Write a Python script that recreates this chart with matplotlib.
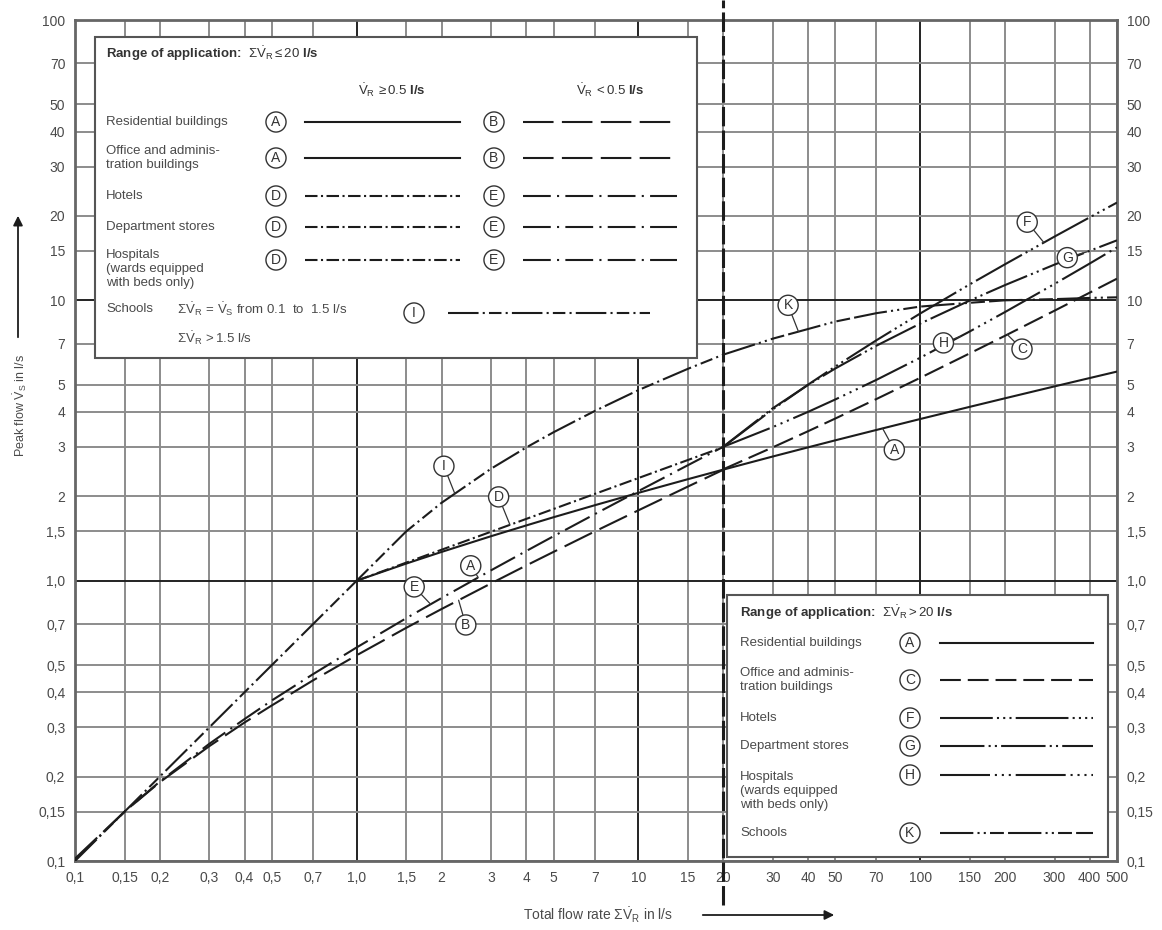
import numpy as np
import matplotlib.pyplot as plt
from matplotlib.patches import Rectangle
from matplotlib.ticker import NullLocator

plt.rcParams['font.family'] = ['Liberation Sans', 'DejaVu Sans']
plt.rcParams['mathtext.fontset'] = 'custom'
plt.rcParams['mathtext.rm'] = 'Liberation Sans'
plt.rcParams['mathtext.it'] = 'Liberation Sans:italic'
plt.rcParams['mathtext.bf'] = 'Liberation Sans:bold'
plt.rcParams['lines.scale_dashes'] = False

NARROW = ['Liberation Sans Narrow', 'Liberation Sans', 'DejaVu Sans']

# Axis ticks
X_TICKS = [0.1, 0.15, 0.2, 0.3, 0.4, 0.5, 0.7, 1, 1.5, 2, 3, 4, 5, 7, 10, 15, 20,
           30, 40, 50, 70, 100, 150, 200, 300, 400, 500]
X_LABELS = ['0,1', '0,15', '0,2', '0,3', '0,4', '0,5', '0,7', '1,0', '1,5', '2', '3', '4', '5',
            '7', '10', '15', '20', '30', '40', '50', '70', '100', '150', '200', '300', '400', '500']
Y_TICKS = [0.1, 0.15, 0.2, 0.3, 0.4, 0.5, 0.7, 1, 1.5, 2, 3, 4, 5, 7, 10, 15, 20, 30, 40, 50, 70, 100]
Y_LABELS = ['0,1', '0,15', '0,2', '0,3', '0,4', '0,5', '0,7', '1,0', '1,5', '2', '3', '4', '5',
            '7', '10', '15', '20', '30', '40', '50', '70', '100']

# Curves, sum flow <= 20 l/s
X_LOW = [0.1, 0.15, 0.2, 0.3, 0.4, 0.5, 0.7, 1.0, 1.5, 2, 3, 4, 5, 7, 10, 15, 20]
B_Y = [0.102, 0.150, 0.191, 0.257, 0.312, 0.359, 0.441, 0.542, 0.679, 0.792, 0.978,
       1.133, 1.267, 1.498, 1.782, 2.167, 2.486]
E_Y = [0.101, 0.150, 0.192, 0.262, 0.321, 0.374, 0.464, 0.578, 0.735, 0.867, 1.089,
       1.276, 1.441, 1.727, 2.087, 2.583, 3.002]
X_MID = [1.0, 1.5, 2, 3, 4, 5, 7, 10, 15, 20]
D_Y = [1.0, 1.160, 1.289, 1.495, 1.661, 1.802, 2.039, 2.323, 2.695, 2.994]
I_X = [0.1, 0.15, 0.2, 0.3, 0.5, 0.7, 1.0, 1.5, 2, 3, 4, 5, 7, 10, 15, 20]
I_Y = [0.1, 0.15, 0.2, 0.3, 0.5, 0.7, 1.0, 1.5, 1.895, 2.509, 2.987, 3.385, 4.030,
       4.783, 5.70, 6.40]

# Residential A runs over both ranges
A_X = [1.0, 1.5, 2, 3, 4, 5, 7, 10, 15, 20, 30, 40, 50, 70, 100, 150, 200, 300, 400, 500]
A_Y = [1.0, 1.151, 1.266, 1.441, 1.574, 1.684, 1.858, 2.057, 2.302, 2.489,
       2.773, 2.989, 3.167, 3.449, 3.772, 4.169, 4.472, 4.932, 5.282, 5.570]

# Curves, sum flow > 20 l/s
X_HIGH = [20, 30, 40, 50, 70, 100, 150, 200, 300, 400, 500]
C_Y = [2.496, 2.990, 3.412, 3.788, 4.447, 5.289, 6.468, 7.472, 9.184, 10.65, 11.95]
F_Y = [3.000, 4.085, 5.001, 5.807, 7.206, 8.970, 11.40, 13.44, 16.88, 19.77, 22.32]
G_Y = [3.004, 4.122, 4.990, 5.713, 6.891, 8.258, 9.982, 11.33, 13.41, 15.02, 16.37]
H_Y = [3.003, 3.531, 4.000, 4.430, 5.205, 6.238, 7.743, 9.078, 11.44, 13.53, 15.45]
K_Y = [6.40, 7.30, 7.90, 8.40, 9.00, 9.50, 9.80, 10.0, 10.1, 10.2, 10.25]

INK = '#1c1c1c'
TXT = '#4a4a4a'
LW = 1.5
FS = 9.5

STYLE = {
    'A': '-',
    'B': (0, (22, 6)),
    'C': (0, (15, 5)),
    'D': (0, (9, 2.5, 1.5, 2.5)),
    'E': (0, (20, 4.5, 1.5, 4.5)),
    'F': (0, (38, 3, 1.5, 3, 1.5, 3, 1.5, 3)),
    'G': (0, (32, 3, 1.5, 3, 1.5, 3)),
    'H': (0, (36, 3.5, 1.5, 3.5, 1.5, 3.5, 1.5, 3.5)),
    'I': (0, (22, 3, 1.5, 3, 9, 3, 1.5, 3)),
    'K': (0, (24, 3, 1.5, 3, 1.5, 3, 10, 3)),
}


def on_curve(xs, ys, x):
    return 10 ** np.interp(np.log10(x), np.log10(xs), np.log10(ys))


fig = plt.figure(figsize=(11.62, 9.30), dpi=100)
ax = fig.add_axes([75 / 1162, 69 / 930, 1042 / 1162, 841 / 930])
ax.set_xscale('log')
ax.set_yscale('log')
ax.set_xlim(0.1, 500)
ax.set_ylim(0.1, 100)

# Grid
for v in X_TICKS:
    dec = v in (1, 10, 100)
    ax.axvline(v, color='#222' if dec else '#8c8c8c', lw=1.4, zorder=1)
for v in Y_TICKS:
    dec = v in (1, 10)
    ax.axhline(v, color='#222' if dec else '#8c8c8c', lw=1.4, zorder=1)

ax.set_xticks(X_TICKS, X_LABELS)
ax.set_yticks(Y_TICKS, Y_LABELS)
ax.xaxis.set_minor_locator(NullLocator())
ax.yaxis.set_minor_locator(NullLocator())
ax.tick_params(axis='both', length=0, labelsize=10, labelcolor=TXT)
ax.tick_params(axis='x', pad=7)
ax.tick_params(axis='y', pad=7, labelright=True)
for lab in ax.get_xticklabels() + ax.get_yticklabels():
    lab.set_family(NARROW)
for s in ax.spines.values():
    s.set_color('#666')
    s.set_linewidth(2)

# Boundary of ranges at 20 l/s
ax.axvline(20, ymin=-0.052, ymax=1.024, clip_on=False, color=INK, lw=2.2,
           ls=(0, (14, 3)), zorder=4)

# Curves
ax.plot(I_X, I_Y, color=INK, lw=LW, ls=STYLE['I'], zorder=3)
ax.plot(X_LOW, B_Y, color=INK, lw=LW, ls=STYLE['B'], zorder=3)
ax.plot(X_LOW, E_Y, color=INK, lw=LW, ls=STYLE['E'], zorder=3)
ax.plot(X_MID, D_Y, color=INK, lw=LW, ls=STYLE['D'], zorder=3)
ax.plot(A_X, A_Y, color=INK, lw=LW, ls=STYLE['A'], zorder=3)
ax.plot(X_HIGH, C_Y, color=INK, lw=LW, ls=STYLE['C'], zorder=3)
ax.plot(X_HIGH, F_Y, color=INK, lw=LW, ls=STYLE['F'], zorder=3)
ax.plot(X_HIGH, G_Y, color=INK, lw=LW, ls=STYLE['G'], zorder=3)
ax.plot(X_HIGH, H_Y, color=INK, lw=LW, ls=STYLE['H'], zorder=3)
ax.plot(X_HIGH, K_Y, color=INK, lw=LW, ls=STYLE['K'], zorder=3)

circ = dict(boxstyle='circle,pad=0.22', fc='white', ec='#333', lw=1)
lead = dict(arrowstyle='-', color='#333', lw=0.9, shrinkA=0, shrinkB=0)


def tag(letter, xs, ys, x, pos):
    ax.annotate(letter, xy=(x, on_curve(xs, ys, x)), xytext=pos, textcoords='data',
                ha='center', va='center', fontsize=10, color='#333', bbox=circ,
                arrowprops=lead, zorder=5)


tag('F', X_HIGH, F_Y, 275, (240, 19.0))
tag('G', X_HIGH, G_Y, 392, (333, 14.2))
tag('K', X_HIGH, K_Y, 37, (34, 9.6))
tag('H', X_HIGH, H_Y, 139, (121, 7.05))
tag('C', X_HIGH, C_Y, 204, (230, 6.7))
tag('A', A_X, A_Y, 73.6, (81, 2.93))
tag('I', I_X, I_Y, 2.23, (2.04, 2.56))
tag('D', X_MID, D_Y, 3.5, (3.19, 1.99))
tag('E', X_LOW, E_Y, 1.83, (1.6, 0.95))
tag('A', X_LOW, E_Y, 2.7, (2.54, 1.13))
tag('B', X_LOW, B_Y, 2.3, (2.44, 0.695))

# Overlay in pixel coordinates for legend boxes and axis titles
ov = fig.add_axes([0, 0, 1, 1])
ov.set_xlim(0, 1162)
ov.set_ylim(930, 0)
ov.axis('off')
ov.patch.set_alpha(0)

V_R = r'$\dot{\mathrm{V}}_\mathrm{R}$'
SV_R = r'$\Sigma\dot{\mathrm{V}}_\mathrm{R}$'


def circled(x, y, letter):
    ov.text(x, y, letter, ha='center', va='center', fontsize=10, color='#333', bbox=circ)


def sample(x0, x1, y, key):
    ov.plot([x0, x1], [y, y], color=INK, lw=LW, ls=STYLE[key])


# Box 1: range <= 20 l/s
ov.add_patch(Rectangle((95, 37), 602, 321, fc='white', ec='#555', lw=1.5))
ov.text(106, 54, r'Range of application:  $\Sigma\dot{\mathrm{V}}_\mathrm{R} \leq 20$ l/s',
        fontsize=FS, fontweight='bold', color='#333', va='center')
ov.text(392, 90, V_R + r'$\,\geq 0.5$ l/s', fontsize=FS, fontweight='bold', color='#333',
        ha='center', va='center')
ov.text(610, 90, V_R + r'$\,< 0.5$ l/s', fontsize=FS, fontweight='bold', color='#333',
        ha='center', va='center')

rows1 = [('Residential buildings', 122, 122, 'A', 'B'),
         ('Office and adminis-\ntration buildings', 158, 158, 'A', 'B'),
         ('Hotels', 196, 196, 'D', 'E'),
         ('Department stores', 227, 227, 'D', 'E'),
         ('Hospitals\n(wards equipped\nwith beds only)', 269, 260, 'D', 'E')]
for label, ty, cy, left, right in rows1:
    ov.text(106, ty, label, fontsize=FS, color=TXT, va='center', linespacing=1.25)
    circled(276, cy, left)
    sample(305, 460, cy, 'A' if left == 'A' else 'D')
    circled(494, cy, right)
    sample(523, 677, cy, 'B' if right == 'B' else 'E')

ov.text(106, 309, 'Schools', fontsize=FS, color=TXT, va='center')
ov.text(177, 309, SV_R + r'$\,=\,\dot{\mathrm{V}}_\mathrm{S}$ from 0.1  to  1.5 l/s',
        fontsize=FS, color=TXT, va='center')
ov.text(177, 338, SV_R + r'$\,> 1.5$ l/s', fontsize=FS, color=TXT, va='center')
circled(414, 313, 'I')
sample(448, 650, 313, 'I')

# Box 2: range > 20 l/s
ov.add_patch(Rectangle((727, 595), 381, 262, fc='white', ec='#555', lw=1.5))
ov.text(740, 613, r'Range of application:  $\Sigma\dot{\mathrm{V}}_\mathrm{R} > 20$ l/s',
        fontsize=FS, fontweight='bold', color='#333', va='center')
rows2 = [('Residential buildings', 643, 643, 'A'),
         ('Office and adminis-\ntration buildings', 680, 680, 'C'),
         ('Hotels', 718, 718, 'F'),
         ('Department stores', 746, 746, 'G'),
         ('Hospitals\n(wards equipped\nwith beds only)', 791, 775, 'H'),
         ('Schools', 833, 833, 'K')]
for label, ty, cy, key in rows2:
    ov.text(740, ty, label, fontsize=FS, color=TXT, va='center', linespacing=1.25)
    circled(910, cy, key)
    sample(940, 1093, cy, key)

# Axis titles
ov.text(20, 405, r'Peak flow $\dot{\mathrm{V}}_\mathrm{S}$ in l/s', rotation=90,
        fontsize=9, color=TXT, ha='center', va='center')
ov.annotate('', xy=(18, 213), xytext=(18, 340),
            arrowprops=dict(arrowstyle='-|>', color=INK, lw=1.3, mutation_scale=14))
ov.text(598, 915, r'Total flow rate $\Sigma\dot{\mathrm{V}}_\mathrm{R}$ in l/s',
        fontsize=10, color=TXT, ha='center', va='center')
ov.annotate('', xy=(837, 915), xytext=(700, 915),
            arrowprops=dict(arrowstyle='-|>', color=INK, lw=1.3, mutation_scale=14))

fig.savefig('out.png', dpi=100)
